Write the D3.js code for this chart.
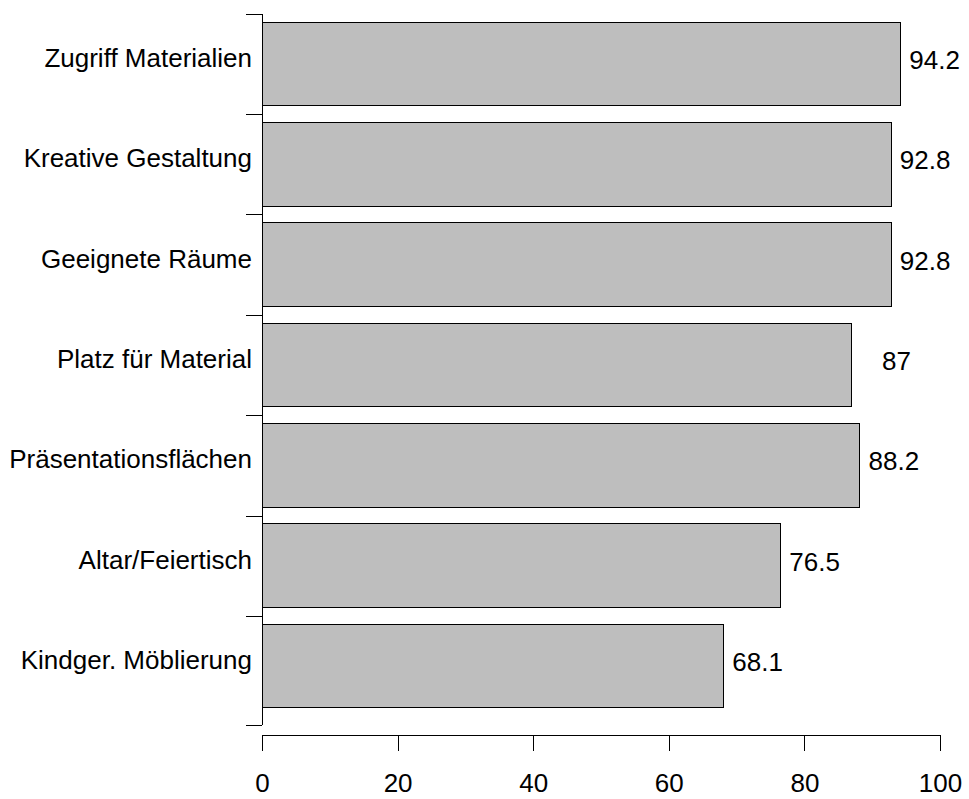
<!DOCTYPE html>
<html><head><meta charset="utf-8">
<script src="https://cdn.jsdelivr.net/npm/d3@7"></script>
<style>
html,body{margin:0;padding:0;background:#fff;}
text{font-family:"Liberation Sans",Arial,Helvetica,sans-serif;fill:#000;}
</style></head>
<body><svg id="chart" width="969" height="799"></svg>
<script>
const categories = ["Zugriff Materialien","Kreative Gestaltung","Geeignete Räume","Platz für Material","Präsentationsflächen","Altar/Feiertisch","Kindger. Möblierung"];
const values = [94.2, 92.8, 92.8, 87, 88.2, 76.5, 68.1];
const valueLabels = ["94.2", "92.8", "92.8", "   87", "88.2", "76.5", "68.1"];
const xTicks = [0, 20, 40, 60, 80, 100];

const svg = d3.select("#chart");
svg.append("rect").attr("width",969).attr("height",799).attr("fill","#fff");
const n = categories.length;
const barW = 1, space = 0.2;
const x = d3.scaleLinear().domain([0,100]).range([262,940]);
const y = d3.scaleLinear().domain([0, n*(barW+space)+space]).range([724.7, 5.3]);
const bottomOf = i => space + (n-1-i)*(barW+space);
const FS = 26;

// bars
svg.append("g").selectAll("rect").data(values).join("rect")
  .attr("x", x(0))
  .attr("y", (d,i)=> y(bottomOf(i)+barW))
  .attr("width", d=> x(d)-x(0))
  .attr("height", (d,i)=> y(bottomOf(i)) - y(bottomOf(i)+barW))
  .attr("fill","#bebebe").attr("stroke","#000").attr("stroke-width",1)
  .attr("shape-rendering","crispEdges");

// value labels
svg.append("g").selectAll("text").data(values).join("text")
  .attr("x", d=> x(d+5))
  .attr("y", (d,i)=> y(bottomOf(i)+barW/2) + 5)
  .attr("text-anchor","middle").attr("font-size",FS)
  .style("white-space","pre")
  .text((d,i)=> valueLabels[i]);

// y axis
const yTickVals = [0].concat(d3.range(n).map(k => space + k*(barW+space) + barW/2 + (barW+space)/2));
const yAxis = d3.axisLeft(y).tickValues(yTickVals).tickSize(16).tickFormat("");
const gy = svg.append("g").attr("transform",`translate(${x(0)},0)`).call(yAxis);
gy.select(".domain").remove();
gy.selectAll(".tick line").attr("stroke","#000").attr("stroke-width",1).attr("shape-rendering","crispEdges");
gy.append("line").attr("x1",0).attr("x2",0)
  .attr("y1", y(d3.min(yTickVals))).attr("y2", y(d3.max(yTickVals)))
  .attr("stroke","#000").attr("stroke-width",1).attr("shape-rendering","crispEdges");

// category labels
svg.append("g").selectAll("text").data(categories).join("text")
  .attr("x", 252)
  .attr("y", (d,i)=> y(bottomOf(i)+barW/2) + 3)
  .attr("text-anchor","end").attr("font-size",FS)
  .text(d=>d);

// x axis
const xAxis = d3.axisBottom(x).tickValues(xTicks).tickSize(16).tickSizeOuter(0).tickPadding(24).tickFormat(d3.format("d"));
const gx = svg.append("g").attr("transform","translate(0,735)").call(xAxis);
gx.select(".domain").attr("stroke","#000").attr("shape-rendering","crispEdges");
gx.selectAll(".tick line").attr("stroke","#000").attr("shape-rendering","crispEdges");
gx.selectAll(".tick text").attr("font-size",FS).attr("font-family","Liberation Sans, Arial, sans-serif").attr("fill","#000").attr("dy",null).attr("y",57);
</script></body></html>
